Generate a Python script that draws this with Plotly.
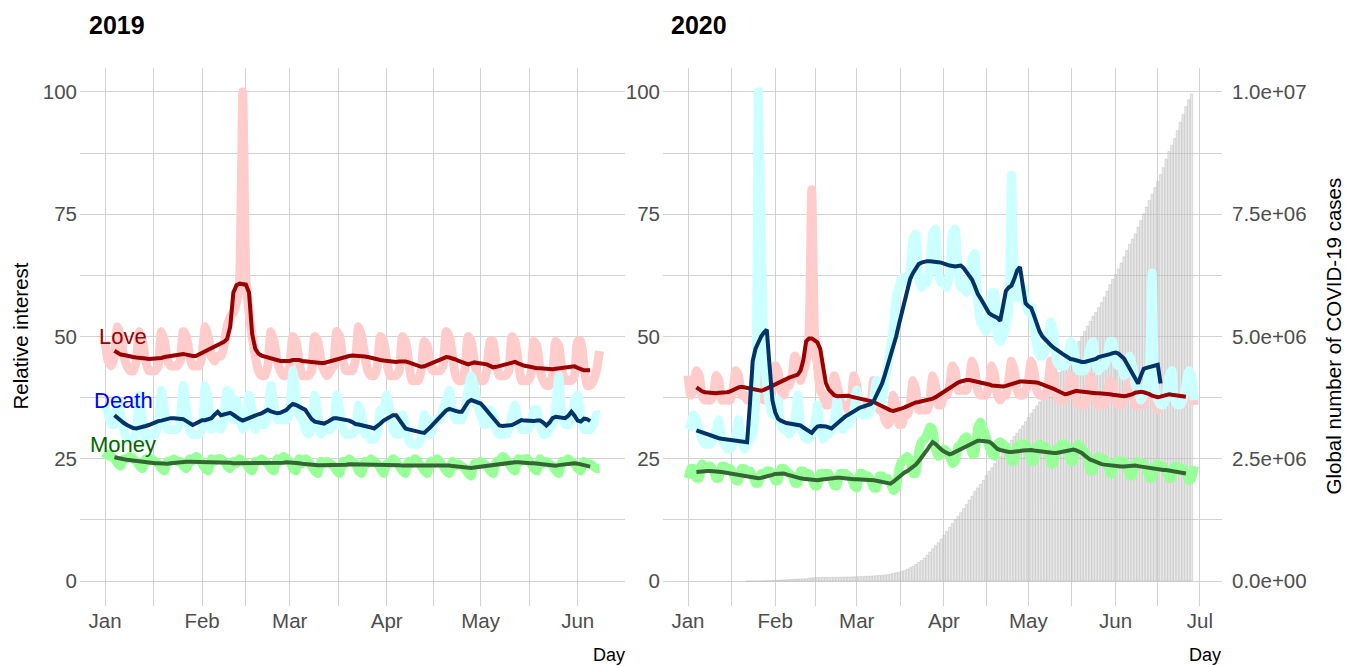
import pandas as pd
import plotly.graph_objects as go

# ---------------- data: 2019 (daily relative interest) ----------------
start19_raw = "2019-01-01"
love19_raw = [
    49, 45, 44, 46, 52, 50, 46,
    44, 43, 43, 45, 51, 49, 45,
    43, 43, 43, 44, 51, 49, 45,
    44, 44, 44, 45, 51, 50, 46,
    44, 44, 44, 46, 52, 50, 46,
    45, 46, 46, 48, 52, 54, 55,
    57, 62, 100, 62, 55, 50, 46,
    43, 42, 42, 44, 51, 49, 45,
    43, 42, 42, 44, 50, 49, 45,
    42, 42, 42, 43, 50, 49, 45,
    43, 42, 43, 44, 51, 50, 45,
    43, 43, 43, 45, 52, 50, 46,
    43, 42, 42, 44, 50, 49, 45,
    42, 42, 42, 43, 50, 49, 45,
    41, 41, 41, 43, 49, 48, 44,
    43, 43, 43, 44, 51, 50, 46,
    42, 41, 41, 43, 50, 49, 45,
    42, 41, 41, 43, 49, 49, 44,
    42, 42, 42, 43, 50, 49, 45,
    41, 41, 41, 42, 49, 48, 43,
    41, 40, 40, 42, 49, 48, 43,
    41, 41, 41, 42, 49, 49, 44,
    40, 40, 41, 43, 47,
]
death19_raw = [
    36, 34, 32, 32, 37, 34, 31,
    29, 29, 29, 31, 38, 33, 29,
    30, 30, 30, 32, 39, 35, 31,
    31, 31, 31, 33, 40, 35, 31,
    30, 30, 30, 31, 40, 37, 31,
    32, 32, 31, 33, 39, 38, 33,
    37, 33, 31, 32, 38, 35, 31,
    33, 32, 32, 34, 40, 36, 33,
    33, 33, 33, 35, 43, 38, 34,
    33, 31, 30, 31, 38, 34, 30,
    31, 31, 31, 32, 38, 35, 31,
    30, 30, 30, 31, 36, 34, 30,
    30, 29, 29, 30, 35, 35, 38,
    35, 31, 30, 30, 34, 32, 29,
    28, 28, 28, 29, 34, 33, 30,
    32, 33, 33, 35, 37, 39, 35,
    33, 33, 33, 35, 39, 42, 40,
    36, 34, 32, 32, 35, 34, 31,
    30, 30, 30, 31, 34, 36, 33,
    31, 31, 31, 32, 35, 35, 32,
    30, 30, 31, 32, 36, 42, 34,
    32, 32, 33, 37, 38, 34, 31,
    31, 31, 32, 34, 34,
]
money19_raw = [
    25, 26, 25.5, 25, 24, 23.5, 25,
    25, 25.5, 25, 24.5, 23.5, 23, 25,
    24.5, 25, 24.5, 24, 23, 22.5, 24.5,
    24.5, 25, 24.5, 24.5, 23.5, 23, 25,
    24.5, 25.5, 25, 24, 23, 22.5, 25,
    24.5, 25, 25, 24.5, 23.5, 23, 24.5,
    24, 25, 24.5, 24, 23, 22.5, 24.5,
    24.5, 25, 24.5, 24, 23, 22.5, 25,
    24.5, 25.5, 25, 24.5, 23, 22.5, 25,
    24, 25, 24.5, 23.5, 22.5, 22, 24.5,
    24, 24.5, 24, 23.5, 22.5, 22, 24.5,
    24, 25, 24.5, 24, 22.5, 22, 24.5,
    24, 25, 24.5, 24, 23, 22, 24,
    24, 25, 24.5, 23.5, 22.5, 22, 24.5,
    24, 25, 24.5, 23.5, 22.5, 22, 24.5,
    24, 25, 24.5, 23.5, 22.5, 22, 24.5,
    23.5, 24, 23.5, 23, 22, 21.5, 24,
    24, 24.5, 24, 23.5, 22.5, 22, 24.5,
    24.5, 25.5, 25, 24, 23, 22.5, 25,
    24.5, 25, 25, 24, 23, 22.5, 25,
    24, 24.5, 24, 23.5, 22.5, 22, 24.5,
    24.5, 25, 24.5, 24, 23, 22.5, 24.5,
    24, 24, 23.5, 23, 23,
]

start19_smooth = "2019-01-04"
love19_smooth = [
    47.1, 46.6, 46.3, 46.2, 46.0, 45.9, 45.8, 45.7, 45.7, 45.6,
    45.5, 45.4, 45.4, 45.4, 45.5, 45.6, 45.8, 45.9, 45.9, 46.1,
    46.3, 46.4, 46.4, 46.3, 46.1, 46.0, 46.0, 46.3, 46.6, 46.9,
    47.3, 47.6, 48.0, 48.3, 48.6, 48.9, 49.5, 52.0, 59.0, 60.5,
    60.8, 60.8, 60.6, 59.0, 50.5, 47.5, 46.5, 46.1, 45.9, 45.6,
    45.4, 45.2, 45.1, 45.0, 45.0, 44.9, 45.0, 45.2, 45.3, 45.2,
    45.0, 44.9, 44.9, 44.8, 44.7, 44.7, 44.6, 44.6, 44.8, 45.0,
    45.2, 45.4, 45.6, 45.8, 45.9, 46.0, 46.1, 46.1, 46.0, 45.9,
    45.9, 45.8, 45.6, 45.4, 45.3, 45.2, 45.1, 45.0, 44.9, 44.8,
    44.8, 44.9, 45.0, 44.9, 44.7, 44.5, 44.3, 44.0, 43.8, 43.9,
    44.2, 44.5, 44.8, 45.1, 45.4, 45.7, 45.8, 45.7, 45.6, 45.3,
    45.0, 44.8, 44.5, 44.3, 44.5, 44.7, 44.6, 44.5, 44.5, 44.3,
    44.0, 43.7, 43.8, 44.0, 44.2, 44.4, 44.6, 44.8, 44.8, 44.5,
    44.2, 44.0, 43.9, 43.7, 43.6, 43.5, 43.5, 43.4, 43.4, 43.3,
    43.3, 43.4, 43.5, 43.6, 43.7, 43.8, 44.0, 43.9, 43.6, 43.3,
    43.1, 43.1, 43.1,
]
death19_smooth = [
    33.9, 33.3, 32.8, 32.3, 31.9, 31.5, 31.3, 31.2, 31.3, 31.5,
    31.7, 31.9, 32.2, 32.5, 32.7, 32.8, 33.0, 33.2, 33.3, 33.3,
    33.3, 33.3, 33.1, 32.7, 32.3, 31.9, 32.2, 32.6, 32.9, 32.9,
    33.0, 33.3, 34.0, 34.6, 33.9, 34.1, 34.3, 34.4, 34.0, 33.5,
    33.1, 32.8, 33.1, 33.4, 33.7, 33.9, 34.1, 34.3, 34.6, 35.0,
    34.7, 34.4, 34.3, 34.4, 34.6, 35.0, 35.7, 36.2, 36.0, 35.7,
    35.4, 35.0, 34.0, 33.1, 32.6, 32.4, 32.3, 32.2, 32.5, 32.9,
    33.3, 33.3, 33.2, 33.1, 33.0, 32.8, 32.5, 32.1, 32.0, 31.9,
    31.8, 31.6, 31.4, 31.2, 31.6, 32.2, 32.8, 33.2, 33.6, 33.9,
    33.9, 33.0, 32.0, 31.2, 31.0, 30.8, 30.6, 30.5, 30.4, 30.3,
    30.8, 31.5, 32.2, 32.9, 33.7, 34.4, 34.9, 35.2, 35.1, 34.8,
    34.6, 34.6, 35.6, 36.6, 37.0, 36.8, 36.6, 36.3, 35.6, 34.8,
    34.0, 33.2, 32.4, 31.8, 31.7, 31.7, 31.8, 31.9, 32.2, 32.5,
    32.9, 32.8, 32.7, 32.6, 32.7, 32.8, 32.8, 32.4, 31.8, 32.4,
    33.3, 33.6, 33.5, 33.4, 33.3, 33.8, 34.6, 33.8, 32.8, 32.6,
    33.2, 33.1, 32.7,
]
money19_smooth = [
    25.3, 25.1, 25.0, 24.9, 24.8, 24.7, 24.6, 24.5, 24.5, 24.4,
    24.4, 24.3, 24.2, 24.1, 24.1, 24.0, 24.0, 24.0, 24.1, 24.2,
    24.2, 24.3, 24.3, 24.4, 24.4, 24.4, 24.4, 24.3, 24.3, 24.2,
    24.2, 24.2, 24.2, 24.2, 24.3, 24.2, 24.2, 24.2, 24.1, 24.1,
    24.0, 24.0, 24.0, 24.0, 24.0, 24.1, 24.1, 24.2, 24.2, 24.2,
    24.1, 24.1, 24.1, 24.2, 24.2, 24.3, 24.3, 24.3, 24.2, 24.1,
    24.0, 23.9, 23.8, 23.8, 23.7, 23.7, 23.7, 23.7, 23.6, 23.6,
    23.6, 23.6, 23.6, 23.7, 23.8, 23.9, 23.9, 23.8, 23.7, 23.7,
    23.8, 23.9, 23.9, 23.8, 23.8, 23.8, 23.7, 23.7, 23.7, 23.7,
    23.7, 23.7, 23.6, 23.6, 23.6, 23.6, 23.7, 23.7, 23.8, 23.8,
    23.8, 23.7, 23.7, 23.7, 23.7, 23.7, 23.7, 23.6, 23.5, 23.4,
    23.3, 23.2, 23.1, 23.0, 23.1, 23.2, 23.3, 23.4, 23.4, 23.5,
    23.6, 23.7, 23.8, 23.9, 24.0, 24.1, 24.2, 24.3, 24.3, 24.3,
    24.2, 24.2, 24.1, 24.1, 24.1, 24.0, 23.9, 23.8, 23.7, 23.6,
    23.6, 23.6, 23.7, 23.8, 23.9, 24.0, 24.1, 24.1, 24.0, 23.8,
    23.6, 23.5, 23.4,
]

# ---------------- data: 2020 ----------------
start20_raw = "2020-01-01"
love20_raw = [
    42, 38, 39, 43, 42, 38, 37,
    37, 37, 38, 42, 41, 37, 37,
    37, 37, 39, 43, 42, 38, 38,
    37, 37, 39, 43, 41, 38, 37,
    38, 38, 40, 44, 43, 39, 38,
    40, 40, 42, 46, 45, 41, 43,
    45, 50, 80, 50, 44, 39, 38,
    36, 36, 38, 42, 40, 37, 36,
    36, 35, 37, 42, 40, 36, 36,
    35, 35, 36, 41, 39, 35, 35,
    33, 32, 33, 38, 36, 32, 32,
    34, 34, 36, 41, 39, 35, 35,
    35, 35, 37, 42, 40, 36, 36,
    38, 38, 40, 44, 43, 39, 39,
    39, 39, 41, 45, 43, 39, 38,
    38, 38, 40, 44, 42, 38, 37,
    38, 38, 41, 45, 43, 39, 38,
    38, 39, 41, 45, 43, 39, 38,
    38, 38, 40, 45, 42, 38, 37,
    37, 37, 39, 42, 41, 37, 36,
    36, 36, 38, 42, 40, 37, 36,
    36, 36, 38, 41, 40, 37, 36,
    36, 37, 38, 42, 40, 36, 36,
    36, 36, 38, 41, 40, 37, 35,
    36, 37, 38, 42, 41, 37, 36,
    36, 36, 38, 41, 40, 36,
]
death20_raw = [
    31, 32, 34, 33, 31, 29, 28,
    28, 28, 29, 31, 33, 29, 28,
    27, 27, 28, 30, 33, 29, 27,
    28, 29, 30, 36, 100, 72, 48,
    40, 36, 34, 34, 37, 32, 31,
    31, 30, 31, 33, 38, 32, 30,
    29, 29, 30, 32, 36, 31, 29,
    30, 30, 31, 33, 37, 32, 31,
    33, 32, 33, 35, 39, 35, 34,
    34, 34, 35, 37, 41, 38, 37,
    41, 44, 48, 52, 58, 60, 62,
    62, 61, 64, 70, 71, 62, 60,
    62, 61, 65, 71, 72, 63, 61,
    61, 60, 63, 71, 72, 63, 60,
    60, 59, 62, 66, 67, 57, 53,
    52, 51, 54, 59, 59, 50, 49,
    50, 52, 55, 83, 62, 58, 58,
    60, 57, 55, 56, 52, 48, 46,
    46, 47, 50, 53, 51, 45, 44,
    44, 44, 46, 49, 48, 44, 43,
    43, 43, 45, 48, 49, 44, 43,
    44, 44, 46, 49, 49, 45, 44,
    44, 42, 43, 46, 44, 40, 39,
    37, 38, 40, 44, 63, 39, 37,
    36, 36, 38, 42, 43, 37, 36,
    36, 37, 40, 43, 42, 37,
]
money20_raw = [
    21, 23, 23, 21, 21, 24, 23.5,
    23.5, 23.5, 22.5, 21, 21, 23.5, 23.5,
    23, 23, 22, 20.5, 20.5, 23, 23,
    22.5, 22.5, 21.5, 20, 20, 22, 22,
    22.5, 22.5, 22, 20.5, 20.5, 23, 23,
    22.5, 22, 21.5, 20, 20, 22.5, 22.5,
    22, 22, 21, 19.5, 19.5, 22, 22,
    22, 22, 21, 19.5, 19.5, 22, 22,
    22, 21.5, 21, 19.5, 19, 22, 22,
    21.5, 21.5, 20.5, 19, 19, 21.5, 21.5,
    21, 21, 20, 18.5, 19, 23, 24.5,
    25, 25.5, 24.5, 22, 22, 26.5, 28.5,
    29, 30, 31.5, 31, 27, 25.5, 26,
    27, 26.5, 25.5, 24, 24.5, 27.5, 28,
    29, 29.5, 28.5, 26, 26, 31.5, 32.5,
    31, 29.5, 27.5, 26, 25.5, 28, 28.5,
    28, 27.5, 26.5, 24.5, 24.5, 27.5, 28,
    28, 28, 27, 24.5, 24.5, 27.5, 28,
    27.5, 27.5, 26.5, 24, 24, 27, 27.5,
    28, 28, 27, 24.5, 24.5, 27.5, 28,
    27, 26.5, 25, 22.5, 22.5, 25, 25.5,
    25, 25, 24, 22, 22, 24.5, 24.5,
    24.5, 24.5, 23.5, 21.5, 21.5, 24, 24.5,
    24, 24, 23, 21, 21, 23.5, 24,
    23.5, 23.5, 22.5, 21, 21, 23.5, 23.5,
    23, 23, 22, 20.5, 21, 23.5,
]

start20_smooth = "2020-01-04"
love20_smooth = [
    39.6, 39.1, 38.8, 38.6, 38.5, 38.4, 38.4, 38.4, 38.5, 38.5,
    38.5, 38.6, 38.8, 39.1, 39.4, 39.6, 39.7, 39.6, 39.4, 39.2,
    39.1, 39.0, 38.9, 38.9, 39.1, 39.4, 39.6, 39.9, 40.1, 40.4,
    40.7, 41.0, 41.3, 41.6, 41.8, 42.0, 42.2, 43.0, 45.2, 49.0,
    49.6, 49.6, 49.3, 48.8, 47.5, 44.0, 40.5, 39.2, 38.5, 38.0,
    37.8, 37.8, 38.0, 38.0, 37.9, 37.7, 37.6, 37.5, 37.4, 37.3,
    37.2, 37.0, 36.8, 36.6, 36.3, 36.0, 35.7, 35.4, 35.1, 34.9,
    34.8, 34.9, 35.1, 35.3, 35.5, 35.8, 36.0, 36.3, 36.5, 36.6,
    36.7, 36.8, 36.9, 37.0, 37.3, 37.6, 38.0, 38.4, 38.8, 39.2,
    39.6, 40.0, 40.3, 40.6, 40.8, 41.0, 41.1, 41.1, 41.0, 40.9,
    40.8, 40.7, 40.6, 40.4, 40.2, 40.0, 39.9, 39.8, 39.7, 39.8,
    39.9, 40.1, 40.3, 40.5, 40.7, 40.8, 40.8, 40.8, 40.8, 40.8,
    40.8, 40.6, 40.4, 40.2, 40.1, 39.9, 39.6, 39.3, 39.0, 38.7,
    38.4, 38.2, 38.3, 38.5, 38.8, 38.9, 38.8, 38.7, 38.6, 38.5,
    38.5, 38.5, 38.4, 38.4, 38.4, 38.4, 38.3, 38.2, 38.1, 38.0,
    37.9, 37.8, 37.8, 37.9, 38.0, 38.2, 38.5, 38.7, 38.7, 38.6,
    38.5, 38.2, 37.9, 37.7, 37.6, 37.7, 37.9, 38.1, 38.2, 38.1,
    38.0, 37.9, 37.8, 37.7, 37.7,
]
death20_smooth = [
    30.8, 30.6, 30.3, 30.0, 29.8, 29.6, 29.5, 29.3, 29.2, 29.1,
    29.0, 29.0, 28.9, 28.8, 28.7, 28.5, 28.4, 28.3, 28.4, 36.0,
    45.0, 47.5, 48.8, 50.0, 50.8, 51.4, 44.0, 37.0, 34.5, 33.2,
    32.8, 32.5, 32.3, 32.2, 32.1, 32.0, 31.9, 31.8, 31.4, 31.0,
    30.6, 30.3, 31.0, 31.6, 31.7, 31.7, 31.6, 31.4, 31.2, 31.7,
    32.2, 32.8, 33.3, 33.7, 34.0, 34.4, 34.8, 35.1, 35.4, 35.6,
    35.8, 36.0, 36.2, 36.8, 38.0, 39.2, 40.4, 42.2, 44.0, 45.8,
    47.8, 50.0, 52.5, 55.0, 57.5, 60.0, 61.8, 63.0, 64.0, 64.8,
    65.1, 65.3, 65.4, 65.4, 65.4, 65.3, 65.2, 65.1, 65.0, 64.7,
    64.5, 64.3, 64.3, 64.4, 64.5, 64.0, 63.3, 62.6, 61.6, 60.2,
    58.7, 57.8, 56.8, 55.7, 54.8, 54.4, 54.2, 53.8, 53.2, 56.5,
    59.3, 60.0, 60.4, 61.8, 63.5, 64.2, 60.0, 56.8, 56.2, 55.8,
    54.3, 52.5, 51.0, 50.0, 49.3, 48.7, 48.2, 47.7, 47.2, 46.9,
    46.5, 46.1, 45.7, 45.4, 45.3, 45.1, 45.0, 44.8, 44.8, 44.9,
    45.1, 45.2, 45.4, 45.8, 45.9, 46.0, 46.2, 46.4, 46.6, 46.7,
    46.5, 46.1, 45.5, 44.5, 43.4, 42.3, 41.2, 40.4, 42.0, 43.4,
    43.6, 43.7, 43.8, 44.0, 44.2, 40.4,
]
money20_smooth = [
    22.3, 22.4, 22.5, 22.5, 22.5, 22.5, 22.5, 22.5, 22.4, 22.3,
    22.2, 22.1, 22.1, 22.0, 21.9, 21.8, 21.7, 21.6, 21.4, 21.3,
    21.1, 21.0, 21.0, 21.1, 21.2, 21.3, 21.5, 21.7, 21.9, 22.0,
    22.1, 22.0, 21.8, 21.6, 21.4, 21.2, 21.1, 21.0, 20.9, 20.8,
    20.7, 20.7, 20.6, 20.6, 20.7, 20.8, 20.9, 21.0, 21.1, 21.1,
    21.1, 21.1, 21.0, 21.0, 20.9, 20.9, 20.8, 20.8, 20.8, 20.7,
    20.7, 20.6, 20.6, 20.6, 20.5, 20.4, 20.3, 20.1, 20.0, 19.9,
    20.3, 20.8, 21.3, 21.8, 22.2, 22.5, 22.9, 23.2, 23.8, 24.5,
    25.2, 25.9, 26.8, 27.7, 28.4, 28.0, 27.4, 26.9, 26.5, 26.1,
    25.9, 26.1, 26.4, 26.7, 27.0, 27.2, 27.6, 28.0, 28.3, 28.6,
    28.7, 28.7, 28.7, 28.6, 28.5, 28.1, 27.6, 27.0, 26.8, 26.6,
    26.5, 26.4, 26.4, 26.4, 26.5, 26.6, 26.7, 26.8, 26.9, 26.8,
    26.7, 26.6, 26.5, 26.4, 26.3, 26.2, 26.2, 26.2, 26.2, 26.3,
    26.4, 26.6, 26.7, 26.9, 26.9, 26.7, 26.5, 26.2, 25.7, 25.2,
    24.8, 24.6, 24.3, 24.1, 23.9, 23.8, 23.7, 23.6, 23.5, 23.5,
    23.4, 23.4, 23.4, 23.5, 23.5, 23.6, 23.6, 23.5, 23.4, 23.3,
    23.1, 23.0, 22.9, 22.9, 22.8, 22.8, 22.7, 22.7, 22.6, 22.5,
    22.4, 22.3, 22.2, 22.1, 22.0,
]

# global cumulative COVID-19 cases (Jan 22 - Jun 28, 2020)
start_cases = "2020-01-22"
covid_cases = [
    555, 654, 941, 1434, 2118, 2927, 5578, 6166, 8234, 9927,
    12038, 16787, 19881, 23892, 27635, 30794, 34391, 37120, 40150, 42762,
    44802, 45221, 60368, 66885, 69030, 71224, 73258, 75136, 75639, 76197,
    76819, 78572, 78958, 79561, 80406, 81388, 82746, 84112, 86011,
    88369, 90306, 92840, 95120, 97886, 101801, 105847, 109821, 113590, 118620,
    125875, 128352, 145205, 156101, 167454, 181574, 197102, 214821, 242570, 272208,
    304507, 336953, 378235, 418045, 467653, 529591, 593291, 660693, 720140, 782389,
    857487,
    932605, 1013466, 1095917, 1176060, 1249754, 1321481, 1396476, 1479804, 1565278, 1657526,
    1735650, 1834721, 1904838, 1976191, 2056054, 2152437, 2240190, 2317758, 2401378, 2472258,
    2549123, 2624068, 2708885, 2795729, 2881140, 2955033, 3023722, 3097229, 3172287, 3256846,
    3343777, 3427343, 3506729, 3583055, 3662691, 3755341, 3845718, 3938064, 4024009, 4101699,
    4177502, 4261747, 4347018, 4442163, 4542347, 4634068, 4713620, 4801943, 4897492, 4996472,
    5102424, 5210817, 5310362, 5407613, 5495061, 5589626, 5691790, 5808946, 5924275, 6059017,
    6166946,
    6265852, 6382044, 6501561, 6629147, 6757135, 6885866, 6992134, 7096738, 7232364, 7371074,
    7509327, 7646587, 7779130, 7908014, 8042888, 8170000, 8310000, 8450000, 8620000, 8780000,
    8910000, 9050000, 9210000, 9380000, 9540000, 9700000, 9840000, 9960000,
]

month_labels = ["Jan", "Feb", "Mar", "Apr", "May", "Jun", "Jul"]
y_ticks = [0, 25, 50, 75, 100]
cases_ticks = [0, 2.5e6, 5e6, 7.5e6, 1e7]
cases_ticktext = ["0.0e+00", "2.5e+06", "5.0e+06", "7.5e+06", "1.0e+07"]

# ---------------- styling ----------------
OFF = 8                      # page body margin in the browser
W, H = 1354 - OFF, 666 - OFF
FONT = "Liberation Sans, Arial, sans-serif"
FS = 20.5
GRID = "#D2D2D2"
TICKC = "#4D4D4D"
RAW_C = {"Love": "#FFCCCC", "Death": "#CCFFFF", "Money": "#99FF99"}
SM_C = {"Love": "#990000", "Death": "#003366", "Money": "#336633"}
RAW_W, SM_W = 9, 4


def px2x(p):
    return (p - OFF) / W


def px2y(p):
    return 1 - (p - OFF) / H


def dates(start, n):
    return pd.date_range(start, periods=n, freq="D")


def mids(starts):
    s = pd.to_datetime(starts)
    return [a + (b - a) / 2 for a, b in zip(s[:-1], s[1:])]


fig = go.Figure()

# ---- panel 2019 ----
raw19 = {"Love": love19_raw, "Death": death19_raw, "Money": money19_raw}
sm19 = {"Love": love19_smooth, "Death": death19_smooth, "Money": money19_smooth}
for k, v in raw19.items():
    fig.add_trace(go.Scatter(x=dates(start19_raw, len(v)), y=v, mode="lines",
                             line=dict(color=RAW_C[k], width=RAW_W, shape="spline", smoothing=0.5),
                             xaxis="x", yaxis="y", hoverinfo="skip"))
for k, v in sm19.items():
    fig.add_trace(go.Scatter(x=dates(start19_smooth, len(v)), y=v, mode="lines",
                             line=dict(color=SM_C[k], width=SM_W), xaxis="x", yaxis="y",
                             hoverinfo="skip"))

# ---- panel 2020 ----
fig.add_trace(go.Bar(x=dates(start_cases, len(covid_cases)), y=covid_cases, xaxis="x2", yaxis="y2",
                     marker=dict(color="rgba(205,205,205,0.45)",
                                 line=dict(color="rgba(170,170,170,0.55)", width=0.6)),
                     hoverinfo="skip"))
raw20 = {"Love": love20_raw, "Death": death20_raw, "Money": money20_raw}
sm20 = {"Love": love20_smooth, "Death": death20_smooth, "Money": money20_smooth}
for k, v in raw20.items():
    fig.add_trace(go.Scatter(x=dates(start20_raw, len(v)), y=v, mode="lines",
                             line=dict(color=RAW_C[k], width=RAW_W, shape="spline", smoothing=0.5),
                             xaxis="x2", yaxis="y3", hoverinfo="skip"))
for k, v in sm20.items():
    fig.add_trace(go.Scatter(x=dates(start20_smooth, len(v)), y=v, mode="lines",
                             line=dict(color=SM_C[k], width=SM_W), xaxis="x2", yaxis="y3",
                             hoverinfo="skip"))

# ---- axes ----
ydom = [px2y(605.5), px2y(67.5)]
m19 = pd.date_range("2019-01-01", periods=6, freq="MS")
m20 = pd.date_range("2020-01-01", periods=7, freq="MS")

common_x = dict(showgrid=True, gridcolor=GRID, gridwidth=1, zeroline=False, showline=False,
                ticks="", ticklen=0, tickmode="array",
                tickfont=dict(family=FONT, size=FS, color=TICKC), ticklabelstandoff=1)
common_y = dict(showgrid=True, gridcolor=GRID, gridwidth=1, zeroline=False, showline=False,
                ticks="", ticklen=0, tickmode="array", tickvals=y_ticks, range=[-5, 105], domain=ydom,
                minor=dict(dtick=12.5, tick0=0, showgrid=True, gridcolor=GRID, gridwidth=1),
                tickfont=dict(family=FONT, size=FS, color=TICKC), ticklabelstandoff=2)

fig.update_layout(
    width=W, height=H, margin=dict(l=0, r=0, t=0, b=0),
    paper_bgcolor="white", plot_bgcolor="white", showlegend=False, bargap=0.15,
    xaxis=dict(domain=[px2x(80), px2x(625)], anchor="y",
               range=["2018-12-24 00:00", "2019-06-16 03:00"],
               tickvals=list(m19), ticktext=month_labels[:6],
               minor=dict(tickmode="array", tickvals=mids(m19), showgrid=True,
                          gridcolor=GRID, gridwidth=1), **common_x),
    yaxis=dict(anchor="x", **common_y),
    xaxis2=dict(domain=[px2x(663), px2x(1222)], anchor="y2",
                range=["2019-12-23 02:40", "2020-07-08 20:00"],
                tickvals=list(m20), ticktext=month_labels,
                minor=dict(tickmode="array", tickvals=mids(m20), showgrid=True,
                           gridcolor=GRID, gridwidth=1), **common_x),
    yaxis2=dict(domain=ydom, anchor="x2", side="right", range=[-5e5, 1.05e7],
                tickmode="array", tickvals=cases_ticks, ticktext=cases_ticktext,
                showgrid=False, zeroline=False, showline=False, ticks="", ticklen=0,
                tickfont=dict(family=FONT, size=FS, color=TICKC), ticklabelstandoff=9),
    yaxis3=dict(overlaying="y2", anchor="x2", side="left", **common_y),
)

ann = [
    dict(text="<b>2019</b>", x=px2x(87), y=px2y(25), xanchor="left",
         font=dict(family=FONT, size=25, color="black")),
    dict(text="<b>2020</b>", x=px2x(669), y=px2y(25), xanchor="left",
         font=dict(family=FONT, size=25, color="black")),
    dict(text="Relative interest", x=px2x(20), y=(ydom[0] + ydom[1]) / 2, textangle=-90,
         font=dict(family=FONT, size=FS, color="black")),
    dict(text="Global number of COVID-19 cases", x=px2x(1333), y=(ydom[0] + ydom[1]) / 2,
         textangle=-90, font=dict(family=FONT, size=FS, color="black")),
    dict(text="Day", x=px2x(627), y=px2y(655), xanchor="right",
         font=dict(family=FONT, size=18, color="black")),
    dict(text="Day", x=px2x(1223), y=px2y(655), xanchor="right",
         font=dict(family=FONT, size=18, color="black")),
]
for a in ann:
    a.update(xref="paper", yref="paper", showarrow=False, yanchor="middle")
    a.setdefault("xanchor", "center")
    fig.add_annotation(**a)

series_labels = [("Love", 49.9, "#990000"), ("Death", 37.0, "#0000FF"), ("Money", 28.0, "#006600")]
for name, yv, col in series_labels:
    fig.add_annotation(text=name, x="2019-01-06 18:00", y=yv, xref="x", yref="y",
                       showarrow=False, xanchor="center", yanchor="middle",
                       font=dict(family=FONT, size=22, color=col))

fig.write_html("out.html")
